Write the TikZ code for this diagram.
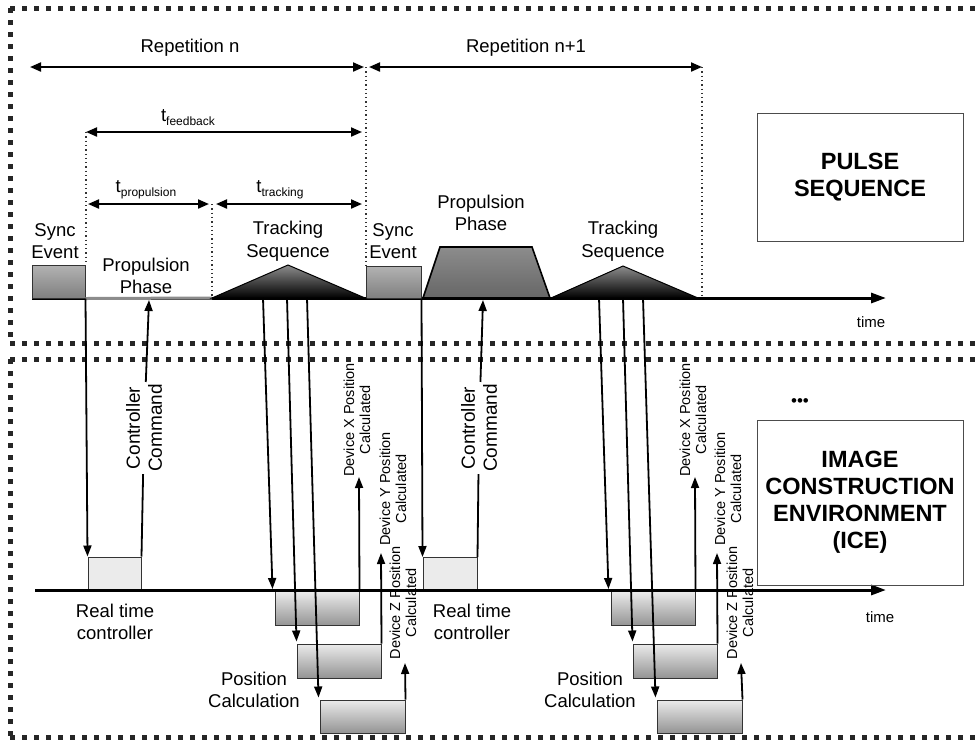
\documentclass[tikz,border=0pt]{standalone}
\usepackage{fontspec}
\setmainfont{Liberation Sans}
\usetikzlibrary{arrows.meta,calc}
\tikzset{
  frame/.style={line width=5pt, dash pattern=on 5pt off 7pt, black!85},
  arr/.style={line width=1.8pt, -{Triangle[length=11pt,width=8pt]}},
  darr/.style={line width=2pt, {Triangle[length=11pt,width=9pt]}-{Triangle[length=11pt,width=9pt]}},
  taxis/.style={line width=3pt, -{Triangle[length=15pt,width=10pt]}},
  dotline/.style={line width=1.3pt, dash pattern=on 1.3pt off 3pt, black!80},
  lbl/.style={font=\fontsize{18.5}{22.5}\selectfont, align=center, inner sep=0pt},
  rot/.style={font=\fontsize{14.5}{16}\selectfont, rotate=90, align=center, inner sep=0pt},
  cmd/.style={font=\fontsize{19}{22}\selectfont, rotate=90, align=center, inner sep=2pt},
  syncbox/.style={draw=black!80, line width=1pt, top color=black!30, bottom color=black!50, minimum width=53pt, minimum height=33pt, inner sep=0pt},
  rtcbox/.style={draw=black!80, line width=1pt, fill=black!8, minimum width=53pt, minimum height=34pt, inner sep=0pt},
  posbox/.style={draw=black!80, line width=1pt, top color=black!8, bottom color=black!42, minimum width=84pt, minimum height=34pt, inner sep=0pt},
  bigbox/.style={draw=black!70, line width=0.9pt, align=center, inner sep=0pt, font=\bfseries\fontsize{23.5}{27}\selectfont},
}
\begin{document}
\begin{tikzpicture}[x=1pt,y=-1pt]
\useasboundingbox (0,0) rectangle (975,740);
\fill[white] (0,0) rectangle (975,740);

% frames
\draw[frame] (10,8) -- (975,8);
\draw[frame] (10,8) -- (10,343);
\draw[frame] (10,343) -- (975,343);
\draw[frame] (10,359) -- (975,359);
\draw[frame] (10,359) -- (10,737);
\draw[frame] (10,737) -- (975,737);

% ---------------- top panel ----------------
\coordinate (r1a) at (30,67);  \coordinate (r1b) at (364,67);
\coordinate (r2a) at (369,67); \coordinate (r2b) at (702,67);
\draw[darr] (r1a) -- (r1b);
\draw[darr] (r2a) -- (r2b);
\node[lbl] (rep1) at (190,48) {Repetition n};
\node[lbl] (rep2) at (526,48) {Repetition n+1};

\coordinate (fba) at (86,132); \coordinate (fbb) at (362,132);
\draw[darr] (fba) -- (fbb);
\node[lbl] (tfb) at (188,118) {t\raisebox{-4pt}{\fontsize{12}{12}\selectfont feedback}};

\coordinate (tpa) at (88,204); \coordinate (tpb) at (209,204);
\coordinate (tta) at (216,204); \coordinate (ttb) at (362,204);
\draw[darr] (tpa) -- (tpb);
\draw[darr] (tta) -- (ttb);
\node[lbl] (tprop) at (146,190) {t\raisebox{-4pt}{\fontsize{12}{12}\selectfont propulsion}};
\node[lbl] (ttrk) at (280,190) {t\raisebox{-4pt}{\fontsize{12}{12}\selectfont tracking}};

% dotted guides
\coordinate (d1a) at (86,132); \coordinate (d1b) at (86,265);
\coordinate (d2a) at (212,204); \coordinate (d2b) at (212,298);
\coordinate (d3a) at (366,67); \coordinate (d3b) at (366,266);
\coordinate (d4a) at (702,67); \coordinate (d4b) at (702,298);
\draw[dotline] (d1a) -- (d1b);
\draw[dotline] (d2a) -- (d2b);
\draw[dotline] (d3a) -- (d3b);
\draw[dotline] (d4a) -- (d4b);

% time axis top
\coordinate (ax1s) at (32,298); \coordinate (ax1e) at (886,298);
\draw[taxis] (ax1s) -- (ax1e);
\node[font=\fontsize{15}{18}\selectfont] (time1) at (871,322) {time};

% sync events
\node[syncbox] (se1) at (58.5,281.5) {};
\node[syncbox, minimum width=55pt, minimum height=32pt] (se2) at (393.5,282) {};
\node[lbl] (se1t) at (55,241) {Sync\\Event};
\node[lbl] (se2t) at (393,241) {Sync\\Event};

% propulsion 1 (flat grey)
\coordinate (pp1b) at (212,298);
\draw[black!45, line width=3pt] (se1.south east) -- (pp1b);
\node[lbl] (pp1t) at (146,276) {Propulsion\\Phase};

% tracking 1
\shade[top color=black!45, bottom color=black, draw=black, line width=1pt] (212,298) -- (288,265) -- (365,298) -- cycle;
\node[lbl] (tr1t) at (288,241) {Tracking\\Sequence};

% propulsion 2 trapezoid
\shade[top color=black!45, bottom color=black!60, draw=black, line width=1.6pt] (423,298) -- (440,247) -- (532,247) -- (550,298) -- cycle;
\node[lbl] (pp2t) at (481,213) {Propulsion\\Phase};

% tracking 2
\shade[top color=black!45, bottom color=black, draw=black, line width=1pt] (551,298) -- (623,266) -- (698,298) -- cycle;
\node[lbl] (tr2t) at (623,241) {Tracking\\Sequence};

\node[bigbox, minimum width=206pt, minimum height=128pt] (pulse) at (860,177) {PULSE\\SEQUENCE};

% ---------------- bottom panel ----------------
\node[rtcbox] (rtc1) at (114.5,574) {};
\node[rtcbox, minimum width=54pt] (rtc2) at (450,574.5) {};

\node[posbox] (pa1) at (317,608.5) {};
\node[posbox] (pb1) at (339,661) {};
\node[posbox, minimum width=85pt, minimum height=33pt] (pc1) at (362.5,716.5) {};
\node[posbox] (pa2) at (653,608.5) {};
\node[posbox] (pb2) at (675,661) {};
\node[posbox, minimum width=85pt, minimum height=33pt] (pc2) at (699.5,716.5) {};

\coordinate (ax2s) at (35,590); \coordinate (ax2e) at (886,590);
\draw[taxis] (ax2s) -- (ax2e);
\node[font=\fontsize{15}{18}\selectfont] (time2) at (880,617) {time};

\node[lbl] (rtc1t) at (115,622) {Real time\\controller};
\node[lbl] (rtc2t) at (472,622) {Real time\\controller};
\node[lbl] (pc1t) at (254,690) {Position\\Calculation};
\node[lbl] (pc2t) at (590,690) {Position\\Calculation};

% sync -> real time controller
\draw[arr] (se1.south east) -- (rtc1.north west);
\draw[arr] (se2.south east) -- (rtc2.north west);

% controller command
\node[cmd] (cc1) at (144,428) {Controller\\Command};
\node[cmd] (cc2) at (479,428) {Controller\\Command};
\coordinate (cc1tip) at (149,300);
\coordinate (cc2tip) at (483,300);
\draw[line width=1.8pt] (rtc1.north east) -- (cc1);
\draw[arr] (cc1) -- (cc1tip);
\draw[line width=1.8pt] (rtc2.north east) -- (cc2);
\draw[arr] (cc2) -- (cc2tip);

% tracking -> position calculation
\coordinate (s1a) at (263,298); \coordinate (s1b) at (287,298); \coordinate (s1c) at (307,298);
\coordinate (s2a) at (599,298); \coordinate (s2b) at (623,298); \coordinate (s2c) at (643,298);
\draw[arr] (s1a) -- ($(pa1.north west)+(-2,-2)$);
\draw[arr] (s1b) -- ($(pb1.north west)+(0,-2)$);
\draw[arr] (s1c) -- ($(pc1.north west)+(-1,-2)$);
\draw[arr] (s2a) -- ($(pa2.north west)+(-2,-2)$);
\draw[arr] (s2b) -- ($(pb2.north west)+(0,-2)$);
\draw[arr] (s2c) -- ($(pc2.north west)+(-1,-2)$);

% position calculated arrows
\coordinate (ux1) at (359,477); \coordinate (uy1) at (381,553); \coordinate (uz1) at (405,663);
\coordinate (ux2) at (695,477); \coordinate (uy2) at (717,553); \coordinate (uz2) at (741,663);
\draw[arr] (pa1.north east) -- (ux1);
\draw[arr] (pb1.north east) -- (uy1);
\draw[arr] (pc1.north east) -- (uz1);
\draw[arr] (pa2.north east) -- (ux2);
\draw[arr] (pb2.north east) -- (uy2);
\draw[arr] (pc2.north east) -- (uz2);

\node[rot] (lx1) at (357,420) {Device X Position\\Calculated};
\node[rot] (ly1) at (393,489) {Device Y Position\\Calculated};
\node[rot] (lz1) at (403,603) {Device Z Position\\Calculated};
\node[rot] (lx2) at (693,420) {Device X Position\\Calculated};
\node[rot] (ly2) at (728,489) {Device Y Position\\Calculated};
\node[rot] (lz2) at (740,603) {Device Z Position\\Calculated};

\node[font=\fontsize{17}{20}\selectfont] (dots) at (800,403) {•••};
\node[bigbox, minimum width=206pt, minimum height=165pt] (ice) at (860,502.5) {IMAGE\\CONSTRUCTION\\ENVIRONMENT\\(ICE)};
\end{tikzpicture}
\end{document}
